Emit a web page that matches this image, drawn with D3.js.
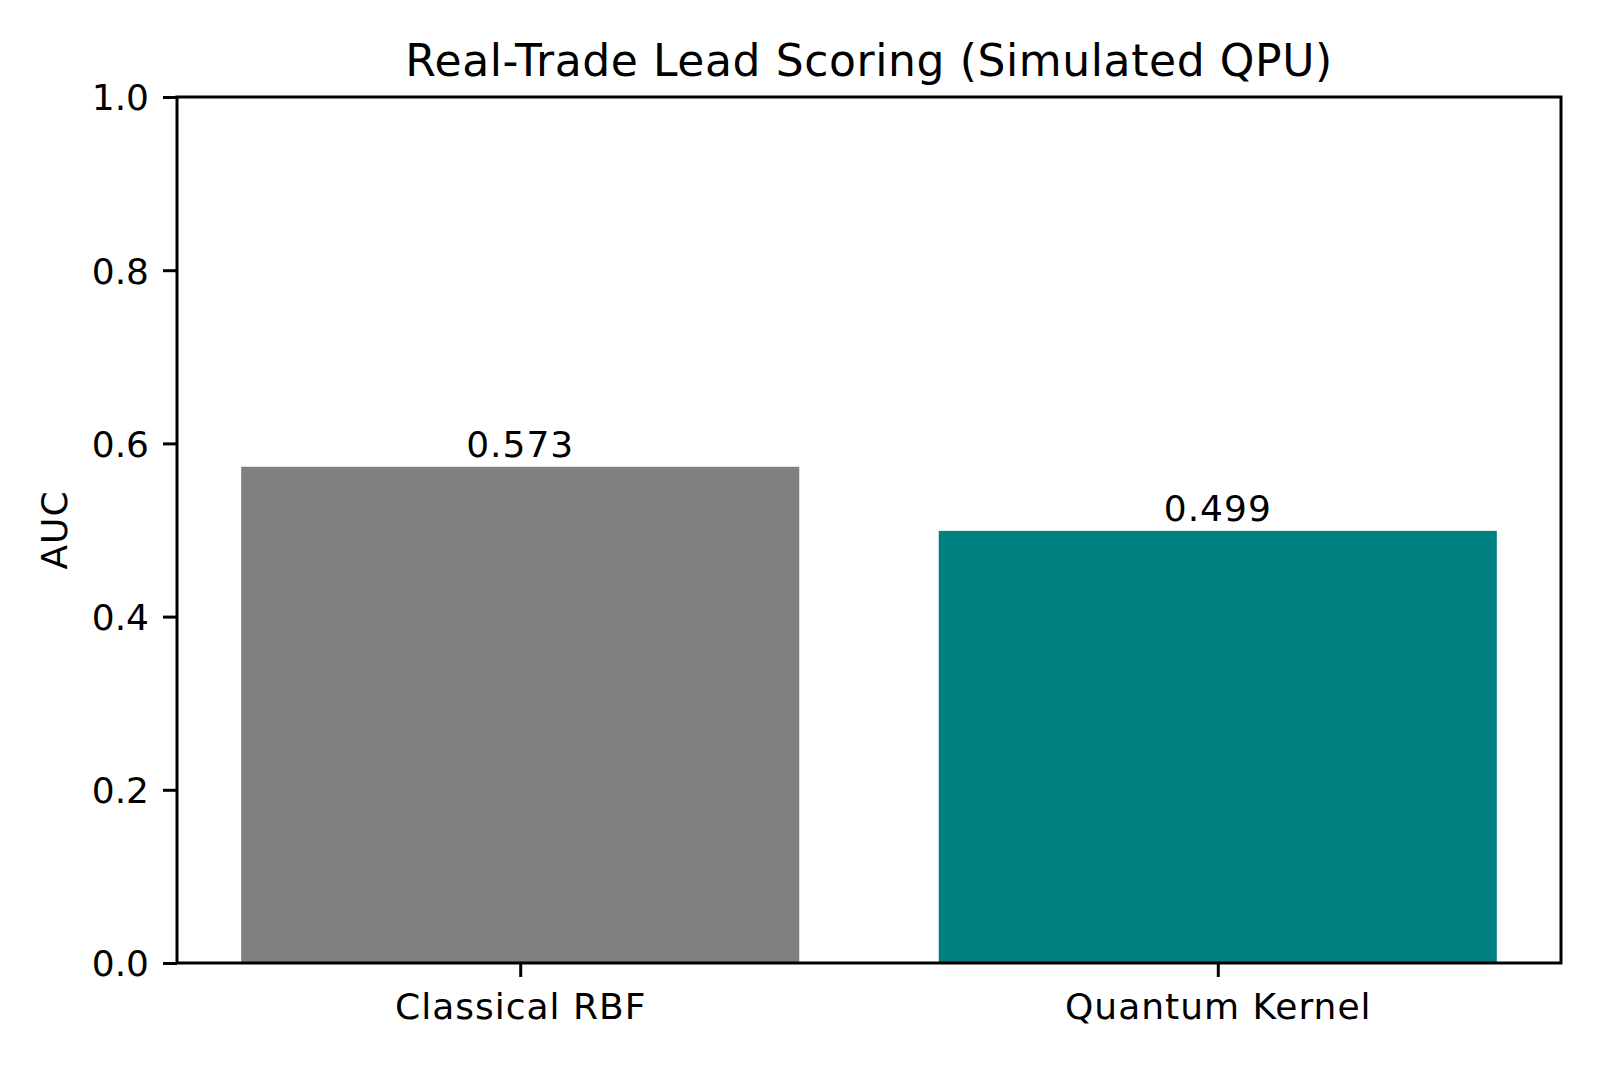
<!DOCTYPE html>
<html>
<head>
<meta charset="utf-8">
<script src="https://cdn.jsdelivr.net/npm/d3@7"></script>
<style>
  html, body { margin: 0; padding: 0; background: #fff; }
  svg { display: block; font-family: "DejaVu Sans", sans-serif; }
</style>
</head>
<body>
<svg id="chart" width="1600" height="1067"></svg>
<script>
const categories = ["Classical RBF", "Quantum Kernel"];
const aucValues = [0.573, 0.499];
const barColors = ["#808080", "#008080"];
const yTicks = [0.0, 0.2, 0.4, 0.6, 0.8, 1.0];
const titleText = "Real-Trade Lead Scoring (Simulated QPU)";
const yLabel = "AUC";

const W = 1600, H = 1067;
const margin = { left: 177, right: W - 1561, top: 97, bottom: H - 963 };
const svg = d3.select("#chart");
const plotW = W - margin.left - margin.right;
const plotH = H - margin.top - margin.bottom;

const tickFont = 36;
const textSpacing = "1px";
const barWidth = 0.8;

const x = d3.scaleLinear().domain([-0.492, 1.492]).range([margin.left, margin.left + plotW]);
const y = d3.scaleLinear().domain([0, 1]).range([margin.top + plotH, margin.top]);

// bars
svg.append("g").selectAll("rect").data(aucValues).join("rect")
  .attr("x", (d, i) => x(i - barWidth / 2))
  .attr("width", (d, i) => x(i + barWidth / 2) - x(i - barWidth / 2))
  .attr("y", d => y(d))
  .attr("height", d => y(0) - y(d))
  .attr("fill", (d, i) => barColors[i]);

// bar labels
svg.append("g").selectAll("text").data(aucValues).join("text")
  .attr("x", (d, i) => x(i))
  .attr("y", d => y(d) - 10)
  .attr("text-anchor", "middle")
  .attr("font-size", tickFont)
  .attr("letter-spacing", textSpacing)
  .attr("fill", "#000")
  .text(d => d.toFixed(3));

// axes
const tickLen = 14, tickPad = 14;
const yAxis = d3.axisLeft(y).tickValues(yTicks).tickFormat(d3.format(".1f"))
  .tickSize(tickLen).tickPadding(tickPad);
const gy = svg.append("g").attr("transform", `translate(${margin.left},0)`).call(yAxis);
gy.select(".domain").remove();
gy.selectAll(".tick line").attr("stroke", "#000").attr("stroke-width", 3);
gy.selectAll(".tick text").attr("font-size", tickFont).attr("fill", "#000")
  .attr("font-family", "DejaVu Sans").attr("dy", "0.36em");

const xAxis = d3.axisBottom(x).tickValues(categories.map((c, i) => i))
  .tickFormat(i => categories[i]).tickSize(tickLen).tickPadding(tickPad);
const gx = svg.append("g").attr("transform", `translate(0,${margin.top + plotH})`).call(xAxis);
gx.select(".domain").remove();
gx.selectAll(".tick line").attr("stroke", "#000").attr("stroke-width", 3);
gx.selectAll(".tick text").attr("font-size", tickFont).attr("fill", "#000")
  .attr("font-family", "DejaVu Sans").attr("dy", "0.78em")
  .attr("letter-spacing", textSpacing);

// frame
svg.append("rect")
  .attr("x", margin.left).attr("y", margin.top)
  .attr("width", plotW).attr("height", plotH)
  .attr("fill", "none").attr("stroke", "#000").attr("stroke-width", 3);

// title
svg.append("text")
  .attr("x", margin.left + plotW / 2).attr("y", 76)
  .attr("text-anchor", "middle").attr("font-size", 44).attr("fill", "#000")
  .attr("letter-spacing", "0.6px")
  .text(titleText);

// y label
svg.append("text")
  .attr("transform", `translate(67,${margin.top + plotH / 2}) rotate(-90)`)
  .attr("text-anchor", "middle").attr("font-size", tickFont).attr("fill", "#000")
  .attr("letter-spacing", textSpacing)
  .text(yLabel);
</script>
</body>
</html>
